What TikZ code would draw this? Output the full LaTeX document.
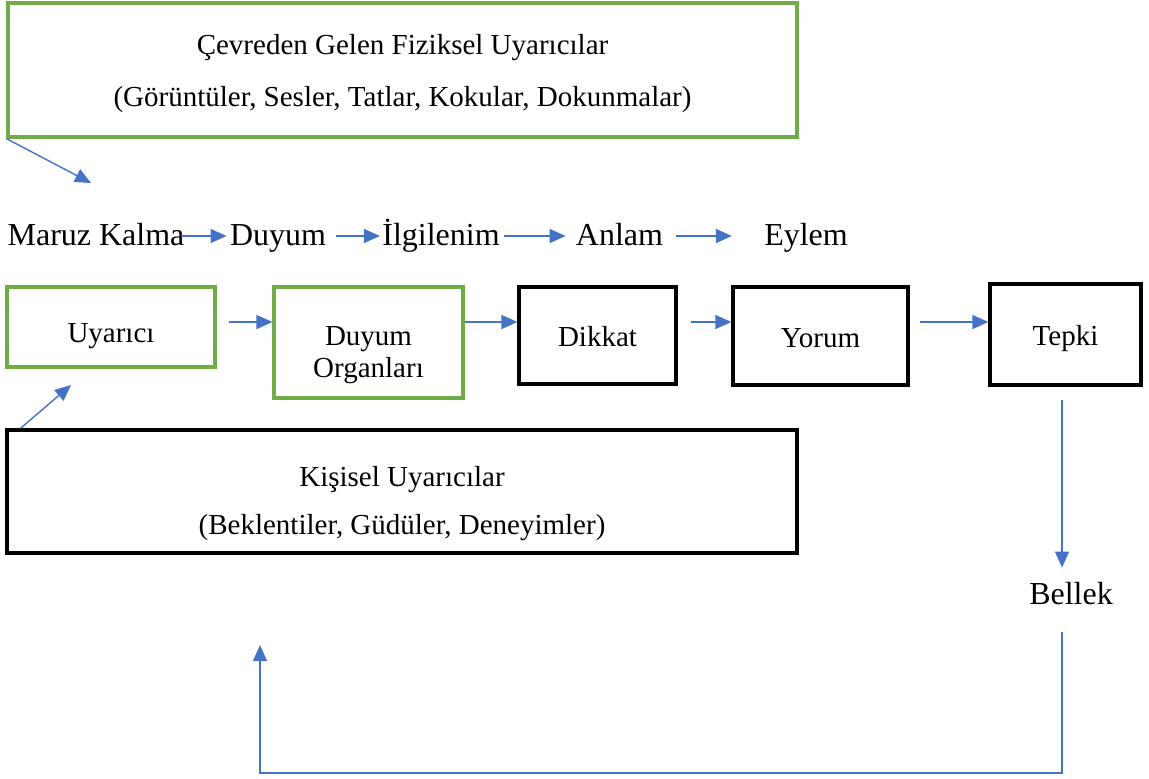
\documentclass[tikz,border=0pt]{standalone}
\usepackage{fontspec}
\setmainfont{Liberation Serif}
\usetikzlibrary{arrows.meta}
\definecolor{arrowblue}{HTML}{4472C4}
\definecolor{boxgreen}{HTML}{70AD47}

\begin{document}
\begin{tikzpicture}[x=0.5pt, y=-0.5pt,
	greenbox/.style={draw=boxgreen, line width=1.6pt, align=center, font=\fontsize{14.5}{16}\selectfont},
	blackbox/.style={draw=black, line width=1.6pt, align=center, font=\fontsize{14.5}{16}\selectfont},
	oneline/.style={text height=13.5pt, text depth=2.5pt},
	word/.style={inner sep=0pt, anchor=base, text height=11pt, text depth=2pt, font=\fontsize{16}{19}\selectfont},
	link/.style={draw=arrowblue, line width=0.7pt, -{Triangle[length=8pt, width=7pt]}}]
	\useasboundingbox (0,0) rectangle (1149,778);

	%outer stimuli
	\node[greenbox, minimum width=394.5pt, minimum height=67pt, font=\fontsize{14.5}{26}\selectfont] (cevre) at (402.5,70)
		{\rule{0pt}{14pt}Çevreden Gelen Fiziksel Uyarıcılar\\(Görüntüler, Sesler, Tatlar, Kokular, Dokunmalar)};
	\coordinate (maruzin) at (91,183);
	\draw[link] (cevre.south west) -- (maruzin);

	%stages
	\node[word] (maruz) at (96,245){Maruz Kalma};
	\node[word] (duyum) at (278,245){Duyum};
	\node[word] (ilgi) at (441,245){İlgilenim};
	\node[word] (anlam) at (619.5,245){Anlam};
	\node[word] (eylem) at (806,245){Eylem};
	\draw[link, shorten <=-2pt, shorten >=1.5pt] (maruz.east) -- (duyum.west);
	\draw[link, shorten <=5pt, shorten >=1pt] (duyum.east) -- (ilgi.west);
	\draw[link, shorten <=2pt, shorten >=5pt] (ilgi.east) -- (anlam.west);
	\draw[link, shorten <=6.5pt, shorten >=16pt] (anlam.east) -- (eylem.west);

	%process boxes
	\node[greenbox, minimum width=104pt, minimum height=40pt, text height=17.5pt, text depth=2.5pt] (uyarici) at (111,327){Uyarıcı};
	\node[greenbox, minimum width=94.5pt, minimum height=55.5pt] (organ) at (368.5,342.5){\rule{0pt}{22.5pt}Duyum\\Organları};
	\node[blackbox, oneline, minimum width=78.5pt, minimum height=48.5pt] (dikkat) at (597.5,335.5){Dikkat};
	\node[blackbox, oneline, minimum width=87.5pt, minimum height=49pt] (yorum) at (820.5,336){Yorum};
	\node[blackbox, oneline, minimum width=75.5pt, minimum height=50.5pt] (tepki) at (1065.5,334.5){Tepki};

	\coordinate (row) at (0,322);
	\draw[link, shorten <=6pt] (uyarici.east |- row) -- (organ.west |- row);
	\draw[link] (organ.east |- row) -- (dikkat.west |- row);
	\draw[link, shorten <=6.5pt] (dikkat.east |- row) -- (yorum.west |- row);
	\draw[link, shorten <=5pt] (yorum.east |- row) -- (tepki.west |- row);

	%inner stimuli
	\node[blackbox, minimum width=395pt, minimum height=61.5pt, font=\fontsize{14.5}{24}\selectfont] (kisisel) at (402,491.5)
		{\rule{0pt}{22pt}Kişisel Uyarıcılar\\(Beklentiler, Güdüler, Deneyimler)};
	\coordinate (uyariciin) at (71,385);
	\draw[link] ([xshift=7.5pt]kisisel.north west) -- (uyariciin);

	%memory and feedback
	\node[word] (bellek) at (1071,604){Bellek};
	\coordinate (memline) at ([xshift=-1.75pt]tepki.south);
	\draw[link, shorten <=6.5pt, shorten >=7pt] (memline) -- (memline |- bellek.north);
	\coordinate (loopbottom) at (260,773);
	\coordinate (loopend) at (260,645);
	\draw[link, shorten <=12pt] (memline |- bellek.south) |- (loopbottom) -- (loopend);
\end{tikzpicture}
\end{document}
